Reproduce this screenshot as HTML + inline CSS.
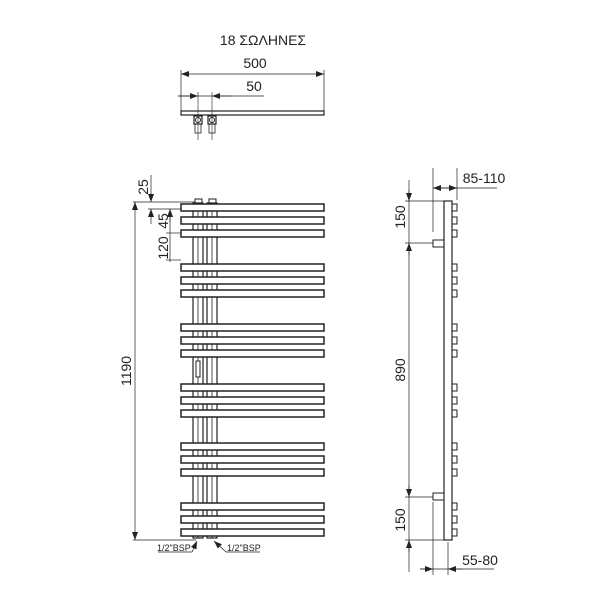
<!DOCTYPE html>
<html><head><style>body{margin:0;background:#fff}svg{display:block}text{font-family:"Liberation Sans","DejaVu Sans",sans-serif;fill:#222}</style></head>
<body>
<svg width="600" height="600" viewBox="0 0 600 600" xmlns="http://www.w3.org/2000/svg">
<defs>
<marker id="a" markerWidth="8" markerHeight="6" refX="8" refY="3" orient="auto" markerUnits="userSpaceOnUse"><path d="M0,0 L8,3 L0,6 z" fill="#222"/></marker>
</defs>
<g stroke="#222" fill="none" stroke-width="1">
<text x="263" y="45" font-size="14" text-anchor="middle" stroke="none">18 ΣΩΛΗΝΕΣ</text>
<!-- top view -->
<line x1="181" y1="70" x2="181" y2="111" stroke-width="0.7"/>
<line x1="324" y1="70" x2="324" y2="111" stroke-width="0.7"/>
<line x1="250" y1="74" x2="324" y2="74" marker-end="url(#a)" stroke-width="0.7"/>
<line x1="250" y1="74" x2="181" y2="74" marker-end="url(#a)" stroke-width="0.7"/>
<text x="255" y="68" font-size="14" text-anchor="middle" stroke="none">500</text>
<line x1="178" y1="96" x2="264" y2="96" stroke-width="0.7"/>
<line x1="178" y1="96" x2="198" y2="96" marker-end="url(#a)" stroke-width="0.7"/>
<line x1="232" y1="96" x2="212" y2="96" marker-end="url(#a)" stroke-width="0.7"/>
<line x1="198" y1="92" x2="198" y2="140" stroke-width="0.6"/>
<line x1="212" y1="92" x2="212" y2="140" stroke-width="0.6"/>
<text x="254" y="91" font-size="14" text-anchor="middle" stroke="none">50</text>
<rect x="181" y="111" width="143" height="4" stroke-width="1.2"/>
<rect x="194" y="116" width="8" height="8" stroke-width="1.2"/>
<circle cx="198" cy="120" r="2.5"/>
<rect x="208" y="116" width="8" height="8" stroke-width="1.2"/>
<circle cx="212" cy="120" r="2.5"/>
<rect x="195" y="124" width="6" height="9" stroke-width="0.8"/>
<rect x="209" y="124" width="6" height="9" stroke-width="0.8"/>
<!-- front view dims -->
<line x1="133" y1="202" x2="195" y2="202" stroke-width="0.7"/>
<line x1="148" y1="209" x2="181" y2="209" stroke-width="0.7"/>
<line x1="151" y1="175" x2="151" y2="202" marker-end="url(#a)" stroke-width="0.7"/>
<line x1="151" y1="224" x2="151" y2="209" marker-end="url(#a)" stroke-width="0.7"/>
<text transform="translate(148,187) rotate(-90)" font-size="14" text-anchor="middle" stroke="none">25</text>
<line x1="170" y1="209" x2="170" y2="262" stroke-width="0.7"/>
<line x1="166" y1="233" x2="181" y2="233" stroke-width="0.7"/>
<line x1="166" y1="260" x2="181" y2="260" stroke-width="0.7"/>
<line x1="170" y1="222" x2="170" y2="209" marker-end="url(#a)" stroke-width="0.7"/>
<text transform="translate(168,221) rotate(-90)" font-size="14" text-anchor="middle" stroke="none">45</text>
<text transform="translate(168,248) rotate(-90)" font-size="14" text-anchor="middle" stroke="none">120</text>
<line x1="135" y1="370" x2="135" y2="202" marker-end="url(#a)" stroke-width="0.7"/>
<line x1="135" y1="370" x2="135" y2="540" marker-end="url(#a)" stroke-width="0.7"/>
<line x1="133" y1="540" x2="196" y2="540" stroke-width="0.7"/>
<text transform="translate(131,371) rotate(-90)" font-size="14" text-anchor="middle" stroke="none">1190</text>
<!-- pipes -->
<rect x="193" y="203" width="10" height="335" stroke-width="1.2"/>
<rect x="207" y="203" width="10" height="335" stroke-width="1.2"/>
<line x1="198" y1="203" x2="198" y2="538" stroke-width="0.8"/>
<line x1="212" y1="203" x2="212" y2="538" stroke-width="0.8"/>
<rect x="195" y="199" width="7" height="4" stroke-width="1"/>
<rect x="209" y="199" width="7" height="4" stroke-width="1"/>
<rect x="196" y="361" width="4" height="16" fill="#fff" stroke-width="1"/>
<!-- bars -->
<g fill="#fff" stroke-width="1.5">
<rect x="181" y="204" width="143" height="7"/><rect x="181" y="217" width="143" height="7"/><rect x="181" y="230" width="143" height="7"/>
<rect x="181" y="264" width="143" height="7"/><rect x="181" y="277" width="143" height="7"/><rect x="181" y="290" width="143" height="7"/>
<rect x="181" y="324" width="143" height="7"/><rect x="181" y="337" width="143" height="7"/><rect x="181" y="350" width="143" height="7"/>
<rect x="181" y="384" width="143" height="7"/><rect x="181" y="397" width="143" height="7"/><rect x="181" y="410" width="143" height="7"/>
<rect x="181" y="443" width="143" height="7"/><rect x="181" y="456" width="143" height="7"/><rect x="181" y="469" width="143" height="7"/>
<rect x="181" y="503" width="143" height="7"/><rect x="181" y="516" width="143" height="7"/><rect x="181" y="529" width="143" height="7"/>
</g>
<line x1="158" y1="552" x2="192" y2="552" stroke-width="0.7"/>
<line x1="192" y1="552" x2="197" y2="541" marker-end="url(#a)" stroke-width="0.7"/>
<text x="157" y="551" font-size="9" stroke="none">1/2"BSP</text>
<line x1="226" y1="552" x2="260" y2="552" stroke-width="0.7"/>
<line x1="226" y1="552" x2="214" y2="541" marker-end="url(#a)" stroke-width="0.7"/>
<text x="227" y="551" font-size="9" stroke="none">1/2"BSP</text>
<!-- side view -->
<rect x="444" y="201" width="8" height="339" stroke-width="1.2"/>
<g stroke-width="1">
<rect x="452" y="204" width="5" height="7"/><rect x="452" y="217" width="5" height="7"/><rect x="452" y="230" width="5" height="7"/>
<rect x="452" y="264" width="5" height="7"/><rect x="452" y="277" width="5" height="7"/><rect x="452" y="290" width="5" height="7"/>
<rect x="452" y="324" width="5" height="7"/><rect x="452" y="337" width="5" height="7"/><rect x="452" y="350" width="5" height="7"/>
<rect x="452" y="384" width="5" height="7"/><rect x="452" y="397" width="5" height="7"/><rect x="452" y="410" width="5" height="7"/>
<rect x="452" y="443" width="5" height="7"/><rect x="452" y="456" width="5" height="7"/><rect x="452" y="469" width="5" height="7"/>
<rect x="452" y="503" width="5" height="7"/><rect x="452" y="516" width="5" height="7"/><rect x="452" y="529" width="5" height="7"/>
<rect x="433" y="240" width="11" height="7"/>
<rect x="433" y="493" width="11" height="7"/>
</g>
<line x1="409" y1="180" x2="409" y2="572" stroke-width="0.7"/>
<line x1="409" y1="190" x2="409" y2="201" marker-end="url(#a)" stroke-width="0.7"/>
<line x1="409" y1="255" x2="409" y2="243" marker-end="url(#a)" stroke-width="0.7"/>
<line x1="409" y1="485" x2="409" y2="497" marker-end="url(#a)" stroke-width="0.7"/>
<line x1="409" y1="552" x2="409" y2="540" marker-end="url(#a)" stroke-width="0.7"/>
<line x1="405" y1="201" x2="444" y2="201" stroke-width="0.7"/>
<line x1="405" y1="243" x2="433" y2="243" stroke-width="0.7"/>
<line x1="405" y1="497" x2="433" y2="497" stroke-width="0.7"/>
<line x1="405" y1="540" x2="444" y2="540" stroke-width="0.7"/>
<text transform="translate(405,217) rotate(-90)" font-size="14" text-anchor="middle" stroke="none">150</text>
<text transform="translate(405,370) rotate(-90)" font-size="14" text-anchor="middle" stroke="none">890</text>
<text transform="translate(405,520) rotate(-90)" font-size="14" text-anchor="middle" stroke="none">150</text>
<line x1="433" y1="168" x2="433" y2="232" stroke-width="0.7"/>
<line x1="457" y1="168" x2="457" y2="200" stroke-width="0.7"/>
<line x1="433" y1="188" x2="497" y2="188" stroke-width="0.7"/>
<line x1="445" y1="188" x2="433" y2="188" marker-end="url(#a)" stroke-width="0.7"/>
<line x1="445" y1="188" x2="457" y2="188" marker-end="url(#a)" stroke-width="0.7"/>
<text x="484" y="183" font-size="14" text-anchor="middle" stroke="none">85-110</text>
<line x1="433" y1="502" x2="433" y2="575" stroke-width="0.7"/>
<line x1="448" y1="542" x2="448" y2="575" stroke-width="0.7"/>
<line x1="420" y1="569" x2="494" y2="569" stroke-width="0.7"/>
<line x1="420" y1="569" x2="433" y2="569" marker-end="url(#a)" stroke-width="0.7"/>
<line x1="462" y1="569" x2="448" y2="569" marker-end="url(#a)" stroke-width="0.7"/>
<text x="480" y="565" font-size="14" text-anchor="middle" stroke="none">55-80</text>
</g>
</svg>
</body></html>
